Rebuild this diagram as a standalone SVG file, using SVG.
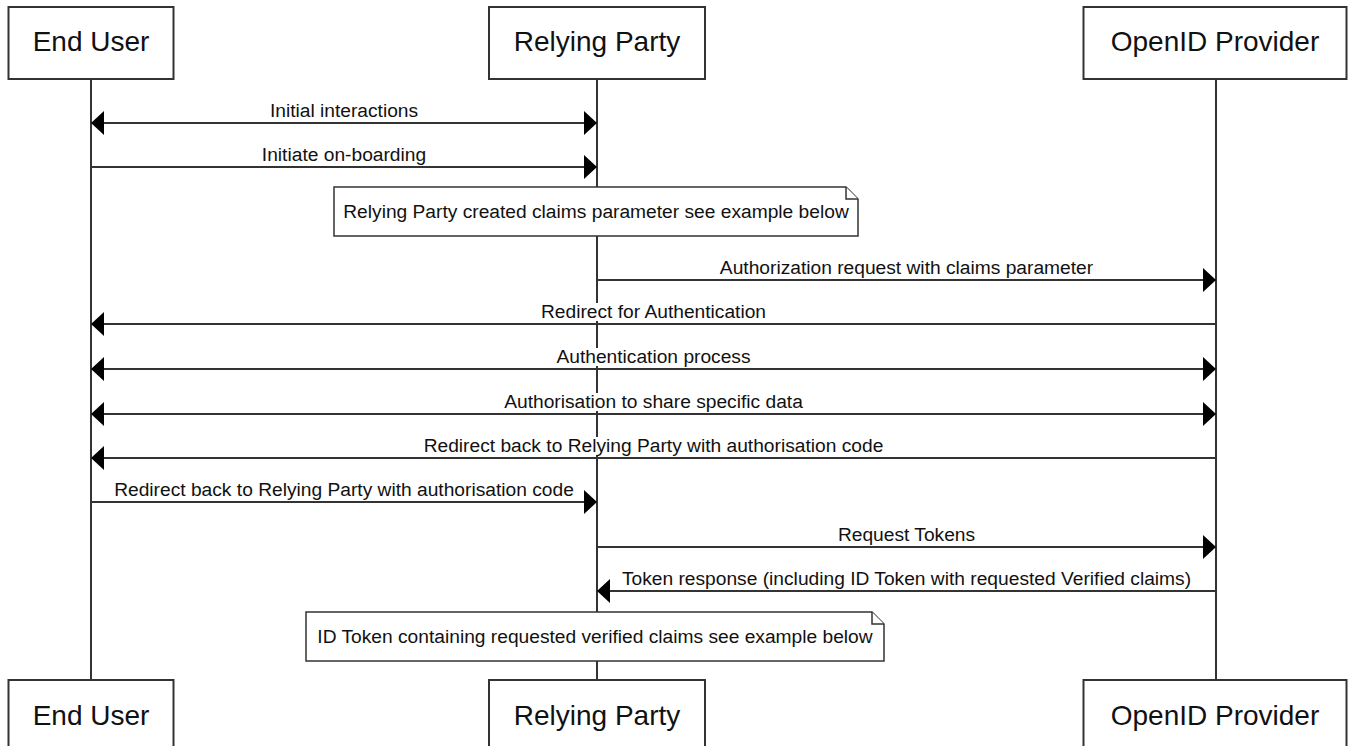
<svg xmlns="http://www.w3.org/2000/svg" width="1349" height="746" viewBox="0 0 1349 746">
<style>
.box{fill:#fff;stroke:#333;stroke-width:2}
.life{stroke:#333;stroke-width:2;fill:none}
.msg{stroke:#333;stroke-width:2;fill:none}
.title{font-family:"Liberation Sans",Arial,sans-serif;font-size:28px;fill:#111;text-anchor:middle}
.lbl{font-family:"Liberation Sans",Arial,sans-serif;font-size:19.2px;fill:#111;text-anchor:middle}
.bg{fill:#fff;stroke:none}
.note{fill:#fff;stroke:#333;stroke-width:1.5}
</style>
<defs>
<marker id="arr" viewBox="0 0 13 24" refX="13" refY="12" markerWidth="13" markerHeight="24" markerUnits="userSpaceOnUse" orient="auto-start-reverse">
<path d="M0,0 L13,12 L0,24 Z" fill="#000"/>
</marker>
</defs>
<rect width="1349" height="746" fill="#fff"/>
<g id="lifelines">
<line class="life" x1="91" y1="79" x2="91" y2="680"/>
<line class="life" x1="597" y1="79" x2="597" y2="680"/>
<line class="life" x1="1216" y1="79" x2="1216" y2="680"/>
</g>
<g id="connectors">
<line class="msg" x1="91" y1="123" x2="597" y2="123" marker-start="url(#arr)" marker-end="url(#arr)"/>
<text class="lbl" x="344" y="117">Initial interactions</text>
<line class="msg" x1="91" y1="167" x2="597" y2="167" marker-end="url(#arr)"/>
<text class="lbl" x="344" y="161">Initiate on-boarding</text>
<line class="msg" x1="597" y1="280" x2="1216" y2="280" marker-end="url(#arr)"/>
<text class="lbl" x="906.5" y="274">Authorization request with claims parameter</text>
<line class="msg" x1="1216" y1="324" x2="91" y2="324" marker-end="url(#arr)"/>
<rect class="bg" x="541" y="303" width="226" height="18"/>
<text class="lbl" x="653.5" y="318">Redirect for Authentication</text>
<line class="msg" x1="91" y1="369" x2="1216" y2="369" marker-start="url(#arr)" marker-end="url(#arr)"/>
<rect class="bg" x="556" y="348" width="195" height="18"/>
<text class="lbl" x="653.5" y="363">Authentication process</text>
<line class="msg" x1="91" y1="414" x2="1216" y2="414" marker-start="url(#arr)" marker-end="url(#arr)"/>
<rect class="bg" x="504" y="393" width="299" height="18"/>
<text class="lbl" x="653.5" y="408">Authorisation to share specific data</text>
<line class="msg" x1="1216" y1="458" x2="91" y2="458" marker-end="url(#arr)"/>
<rect class="bg" x="423" y="437" width="461" height="18"/>
<text class="lbl" x="653.5" y="452">Redirect back to Relying Party with authorisation code</text>
<line class="msg" x1="91" y1="502" x2="597" y2="502" marker-end="url(#arr)"/>
<text class="lbl" x="344" y="496">Redirect back to Relying Party with authorisation code</text>
<line class="msg" x1="597" y1="547" x2="1216" y2="547" marker-end="url(#arr)"/>
<text class="lbl" x="906.5" y="541">Request Tokens</text>
<line class="msg" x1="1216" y1="591" x2="597" y2="591" marker-end="url(#arr)"/>
<text class="lbl" x="906.5" y="585">Token response (including ID Token with requested Verified claims)</text>
</g>
<g id="note1">
<path class="note" d="M334,187 H846 L858,199 V236 H334 Z"/>
<path class="note" d="M846,187 V199 H858" fill="none"/>
<text class="lbl" x="596" y="218">Relying Party created claims parameter see example below</text>
</g>
<g id="note2">
<path class="note" d="M306,612 H872 L884,624 V661 H306 Z"/>
<path class="note" d="M872,612 V624 H884" fill="none"/>
<text class="lbl" x="595" y="643">ID Token containing requested verified claims see example below</text>
</g>
<g id="end-user-top">
<rect class="box" x="8.5" y="7" width="165" height="72"/>
<text class="title" x="91" y="51">End User</text>
</g>
<g id="relying-party-top">
<rect class="box" x="489" y="7" width="216" height="72"/>
<text class="title" x="597" y="51">Relying Party</text>
</g>
<g id="openid-provider-top">
<rect class="box" x="1083.5" y="7" width="263" height="72"/>
<text class="title" x="1215" y="51">OpenID Provider</text>
</g>
<g id="end-user-bottom">
<rect class="box" x="8.5" y="680" width="165" height="72"/>
<text class="title" x="91" y="725">End User</text>
</g>
<g id="relying-party-bottom">
<rect class="box" x="489" y="680" width="216" height="72"/>
<text class="title" x="597" y="725">Relying Party</text>
</g>
<g id="openid-provider-bottom">
<rect class="box" x="1083.5" y="680" width="263" height="72"/>
<text class="title" x="1215" y="725">OpenID Provider</text>
</g>
</svg>
